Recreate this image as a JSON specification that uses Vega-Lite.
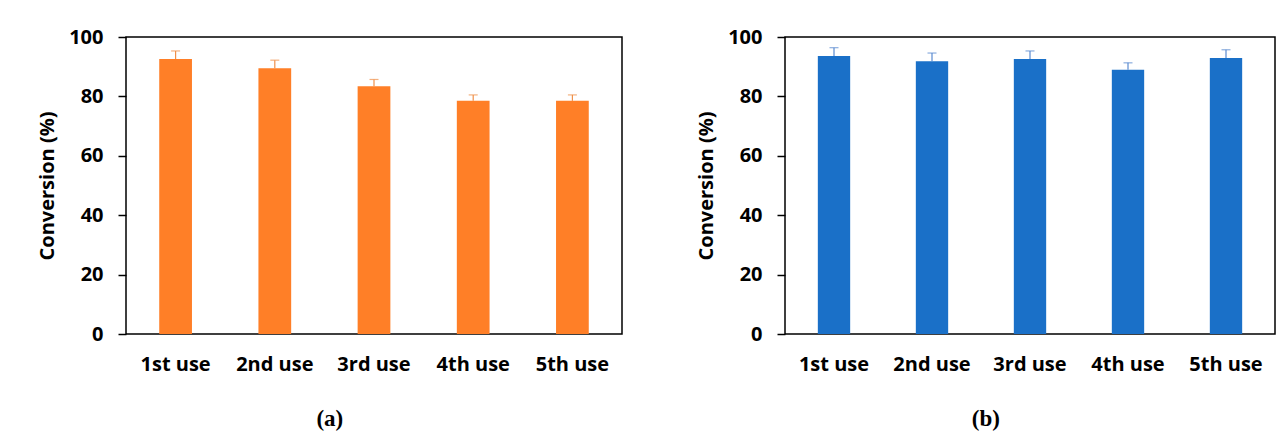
{
  "$schema": "https://vega.github.io/schema/vega-lite/v6.json",
  "padding": {"left": 36, "top": 26, "right": 0, "bottom": 0},
  "background": "white",
  "datasets": {
    "runs": [
      {"panel": "a", "use": "1st use", "conversion": 92.6, "upper": 95.3},
      {"panel": "a", "use": "2nd use", "conversion": 89.5, "upper": 92.2},
      {"panel": "a", "use": "3rd use", "conversion": 83.4, "upper": 85.7},
      {"panel": "a", "use": "4th use", "conversion": 78.5, "upper": 80.5},
      {"panel": "a", "use": "5th use", "conversion": 78.5, "upper": 80.5},
      {"panel": "b", "use": "1st use", "conversion": 93.6, "upper": 96.4},
      {"panel": "b", "use": "2nd use", "conversion": 91.8, "upper": 94.6},
      {"panel": "b", "use": "3rd use", "conversion": 92.6, "upper": 95.3},
      {"panel": "b", "use": "4th use", "conversion": 89.0, "upper": 91.3},
      {"panel": "b", "use": "5th use", "conversion": 92.9, "upper": 95.7}
    ]
  },
  "spacing": 72,
  "config": {
    "view": {"stroke": "#000000", "strokeWidth": 1.5},
    "font": "Open Sans",
    "axis": {
      "grid": false,
      "domain": false,
      "labelFont": "Open Sans",
      "labelFontWeight": "bold",
      "labelFontSize": 20,
      "labelColor": "#000000",
      "titleFont": "Open Sans",
      "titleFontWeight": "bold",
      "titleFontSize": 20,
      "titleColor": "#000000"
    },
    "title": {"font": "Liberation Serif", "fontSize": 23, "fontWeight": "bold", "color": "#000000"}
  },
  "hconcat": [
    {
      "width": 496,
      "height": 297,
      "data": {"name": "runs"},
      "transform": [{"filter": "datum.panel === 'a'"}],
      "title": {"text": "(a)", "orient": "bottom", "anchor": "middle", "frame": "bounds", "offset": 34},
      "encoding": {
        "x": {"field": "use", "type": "nominal", "sort": null, "title": null,
              "scale": {"paddingInner": 0.67, "paddingOuter": 0.335},
              "axis": {"labelAngle": 0, "ticks": false, "labelPadding": 20}}
      },
      "layer": [
        {
          "mark": {"type": "bar", "color": "#FF7F27"},
          "encoding": {
            "y": {"field": "conversion", "type": "quantitative", "title": "Conversion (%)",
                  "scale": {"domain": [0, 100], "nice": false},
                  "axis": {"values": [0, 20, 40, 60, 80, 100], "tickSize": 8, "tickColor": "#000000", "tickWidth": 1.5, "labelPadding": 15, "titlePadding": 11}}
          }
        },
        {
          "mark": {"type": "rule", "color": "#F0904A", "strokeWidth": 1.2},
          "encoding": {"y": {"field": "conversion", "type": "quantitative"}, "y2": {"field": "upper"}}
        },
        {
          "mark": {"type": "tick", "color": "#F0904A", "thickness": 1.2, "size": 9},
          "encoding": {"y": {"field": "upper", "type": "quantitative"}}
        }
      ]
    },
    {
      "width": 490,
      "height": 297,
      "data": {"name": "runs"},
      "transform": [{"filter": "datum.panel === 'b'"}],
      "title": {"text": "(b)", "orient": "bottom", "anchor": "middle", "frame": "bounds", "offset": 34},
      "encoding": {
        "x": {"field": "use", "type": "nominal", "sort": null, "title": null,
              "scale": {"paddingInner": 0.67, "paddingOuter": 0.335},
              "axis": {"labelAngle": 0, "ticks": false, "labelPadding": 20}}
      },
      "layer": [
        {
          "mark": {"type": "bar", "color": "#1A70C8"},
          "encoding": {
            "y": {"field": "conversion", "type": "quantitative", "title": "Conversion (%)",
                  "scale": {"domain": [0, 100], "nice": false},
                  "axis": {"values": [0, 20, 40, 60, 80, 100], "tickSize": 8, "tickColor": "#000000", "tickWidth": 1.5, "labelPadding": 15, "titlePadding": 11}}
          }
        },
        {
          "mark": {"type": "rule", "color": "#5A8AD0", "strokeWidth": 1.2},
          "encoding": {"y": {"field": "conversion", "type": "quantitative"}, "y2": {"field": "upper"}}
        },
        {
          "mark": {"type": "tick", "color": "#5A8AD0", "thickness": 1.2, "size": 9},
          "encoding": {"y": {"field": "upper", "type": "quantitative"}}
        }
      ]
    }
  ]
}
